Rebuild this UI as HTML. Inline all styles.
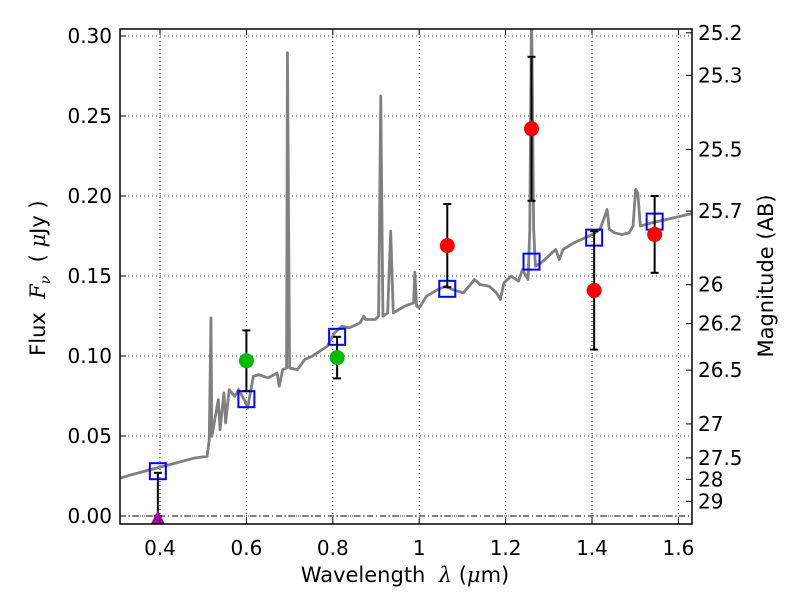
<!DOCTYPE html>
<html><head><meta charset="utf-8"><style>
body{margin:0;background:#fff;}
svg text{font-family:"DejaVu Sans","Liberation Sans",sans-serif;fill:#000;}
</style></head><body>
<svg id="chart" width="800" height="600" xmlns="http://www.w3.org/2000/svg">
<g id="grid"></g>
<g id="spec"></g>
<g id="marks"></g>
<g id="axes"></g>
</svg>
<script>
const xTicks=[0.4,0.6,0.8,1.0,1.2,1.4,1.6];
const xTickLabels=["0.4","0.6","0.8","1","1.2","1.4","1.6"];
const yTicks=[0,0.05,0.10,0.15,0.20,0.25,0.30];
const yTickLabels=["0.00","0.05","0.10","0.15","0.20","0.25","0.30"];
const magTicks=[25.2,25.3,25.5,25.7,26,26.2,26.5,27,27.5,28,29];
const magTickLabels=["25.2","25.3","25.5","25.7","26","26.2","26.5","27","27.5","28","29"];
const specLam=[0.309,0.334,0.377,0.437,0.479,0.509,0.514,0.518,0.520,0.535,0.539,0.548,0.552,0.560,0.573,0.582,0.595,0.603,0.616,0.629,0.650,0.671,0.676,0.684,0.693,0.695,0.700,0.718,0.735,0.752,0.787,0.804,0.821,0.838,0.863,0.872,0.876,0.898,0.906,0.911,0.916,0.927,0.934,0.940,0.966,0.987,0.990,0.994,1.000,1.017,1.043,1.060,1.077,1.102,1.128,1.141,1.162,1.179,1.188,1.196,1.213,1.230,1.239,1.252,1.256,1.260,1.265,1.269,1.282,1.299,1.316,1.324,1.333,1.358,1.384,1.401,1.418,1.427,1.435,1.440,1.452,1.469,1.486,1.495,1.501,1.506,1.512,1.538,1.572,1.606,1.630];
const specFlux=[0.0237,0.0258,0.0289,0.0331,0.0362,0.0373,0.0477,0.1238,0.0498,0.0727,0.0540,0.0769,0.0582,0.0790,0.0748,0.0790,0.0727,0.0675,0.0873,0.0884,0.0863,0.0894,0.0811,0.0915,0.0925,0.2896,0.0925,0.0915,0.0978,0.0998,0.1061,0.1144,0.1186,0.1176,0.1207,0.1249,0.1228,0.1228,0.1249,0.2625,0.1249,0.1269,0.1780,0.1269,0.1311,0.1332,0.1524,0.1311,0.1301,0.1374,0.1415,0.1436,0.1415,0.1394,0.1478,0.1447,0.1436,0.1394,0.1353,0.1457,0.1499,0.1468,0.1540,0.1478,0.1791,0.3200,0.1791,0.1561,0.1582,0.1624,0.1666,0.1603,0.1666,0.1707,0.1739,0.1759,0.1791,0.1853,0.1916,0.1791,0.1770,0.1759,0.1770,0.1812,0.2041,0.2020,0.1812,0.1832,0.1853,0.1874,0.1890];
const greenLam=[0.60,0.81];
const greenFlux=[0.097,0.099];
const greenErr=[0.019,0.013];
const redLam=[1.065,1.26,1.405,1.545];
const redFlux=[0.169,0.242,0.141,0.176];
const redErr=[0.026,0.045,0.037,0.024];
const limLam=[0.395];
const limFlux=[0.0];
const limErr=[0.027];
const modelLam=[0.395,0.60,0.81,1.065,1.26,1.405,1.545];
const modelFlux=[0.028,0.073,0.112,0.142,0.159,0.174,0.184];

const L=120,R=692,T=29,B=524;
const X=l=>160+(l-0.4)*432;
const Y=f=>516-f*1600;
const NS="http://www.w3.org/2000/svg";
function mk(tag,attrs,parent,txt){const e=document.createElementNS(NS,tag);for(const k in attrs)e.setAttribute(k,attrs[k]);if(txt!==undefined)e.textContent=txt;parent.appendChild(e);return e;}
const grid=document.getElementById('grid'),spec=document.getElementById('spec'),marks=document.getElementById('marks'),axes=document.getElementById('axes');
const defs=mk('defs',{},document.getElementById('chart'));
const cp=mk('clipPath',{id:'clip'},defs);mk('rect',{x:L,y:T,width:R-L,height:B-T},cp);
spec.setAttribute('clip-path','url(#clip)');marks.setAttribute('clip-path','url(#clip)');
xTicks.forEach((v,i)=>{
 const g=mk('line',{x1:X(v),x2:X(v),y1:T,y2:B,stroke:'#000','stroke-width':0.8,'stroke-dasharray':'1,3'},grid);
 
 mk('line',{x1:X(v),x2:X(v),y1:B,y2:B-6,stroke:'#000'},axes);
 mk('line',{x1:X(v),x2:X(v),y1:T,y2:T+6,stroke:'#000'},axes);
 const t=mk('text',{x:X(v),y:B+31,'text-anchor':'middle','font-size':20},axes,xTickLabels[i]);
 
});
yTicks.forEach((v,i)=>{
 const g=mk('line',{x1:L,x2:R,y1:Y(v),y2:Y(v),stroke:'#000','stroke-width':0.8,'stroke-dasharray':'1,3'},grid);
 
 mk('line',{x1:L,x2:L+6,y1:Y(v),y2:Y(v),stroke:'#000'},axes);
 const t=mk('text',{x:L-8,y:Y(v)+7,'text-anchor':'end','font-size':20},axes,yTickLabels[i]);
 
});
const z=mk('line',{x1:L,x2:R,y1:Y(0),y2:Y(0),stroke:'#000','stroke-width':1,'stroke-dasharray':'6,3,1,3'},grid);

magTicks.forEach((m,i)=>{
 const f=Math.pow(10,(23.9-m)/2.5);const y=Y(f);
 mk('line',{x1:R,x2:R-6,y1:y,y2:y,stroke:'#000'},axes);
 const t=mk('text',{x:R+6,y:y+7,'font-size':20},axes,magTickLabels[i]);
 
});
const sp=mk('polyline',{points:specLam.map((l,i)=>X(l)+','+Y(specFlux[i])).join(' '),fill:'none',stroke:'#808080','stroke-width':2.8,'stroke-linejoin':'round'},spec);

function errbar(l,f,e){
 mk('line',{x1:X(l),x2:X(l),y1:Y(f-e),y2:Y(f+e),stroke:'#000','stroke-width':2},marks);
 [f-e,f+e].forEach(v=>mk('line',{x1:X(l)-4,x2:X(l)+4,y1:Y(v),y2:Y(v),stroke:'#000','stroke-width':2},marks));
}
modelLam.forEach((l,i)=>{
 const r=mk('rect',{x:X(l)-8,y:Y(modelFlux[i])-8,width:16,height:16,fill:'none',stroke:'#0000ff','stroke-width':2},marks);
 
});
greenLam.forEach((l,i)=>{
 errbar(l,greenFlux[i],greenErr[i]);
 const c=mk('circle',{cx:X(l),cy:Y(greenFlux[i]),r:7.5,fill:'#00bb00'},marks);
 
});
redLam.forEach((l,i)=>{
 errbar(l,redFlux[i],redErr[i]);
 const c=mk('circle',{cx:X(l),cy:Y(redFlux[i]),r:7.5,fill:'#ff0000'},marks);
 
});
limLam.forEach((l,i)=>{
 errbar(l,limFlux[i]+limErr[i]/2,limErr[i]/2);
 const x=X(l),y=Y(limFlux[i]);
 const p=mk('polygon',{points:`${x-7},${y+8} ${x+7},${y+8} ${x},${y-6}`,fill:'#aa00aa'},marks);
 
});
const fr=mk('rect',{x:L,y:T,width:R-L,height:B-T,fill:'none',stroke:'#000','stroke-width':1.5},axes);

</script>
<div style="position:absolute;left:0;top:0;width:800px;height:600px;pointer-events:none">
<div style="position:absolute;left:240px;top:563px;width:330px;text-align:center;font:21px 'DejaVu Sans','Liberation Sans',sans-serif;">Wavelength &nbsp;<i style="font-family:'DejaVu Serif',serif">λ</i> (<i style="font-family:'DejaVu Serif',serif">μ</i>m)</div>
<div style="position:absolute;left:-60px;top:264px;width:200px;text-align:center;transform:rotate(-90deg);font:21px 'DejaVu Sans','Liberation Sans',sans-serif;white-space:nowrap;">Flux &nbsp;<i style="font-family:'DejaVu Serif',serif">F<sub style="font-size:14px">ν</sub></i> &nbsp;( <i style="font-family:'DejaVu Serif',serif">μ</i>Jy )</div>
<div style="position:absolute;left:666px;top:264px;width:200px;text-align:center;transform:rotate(-90deg);font:21px 'DejaVu Sans','Liberation Sans',sans-serif;white-space:nowrap;">Magnitude (AB)</div>
</div>
</body></html>
